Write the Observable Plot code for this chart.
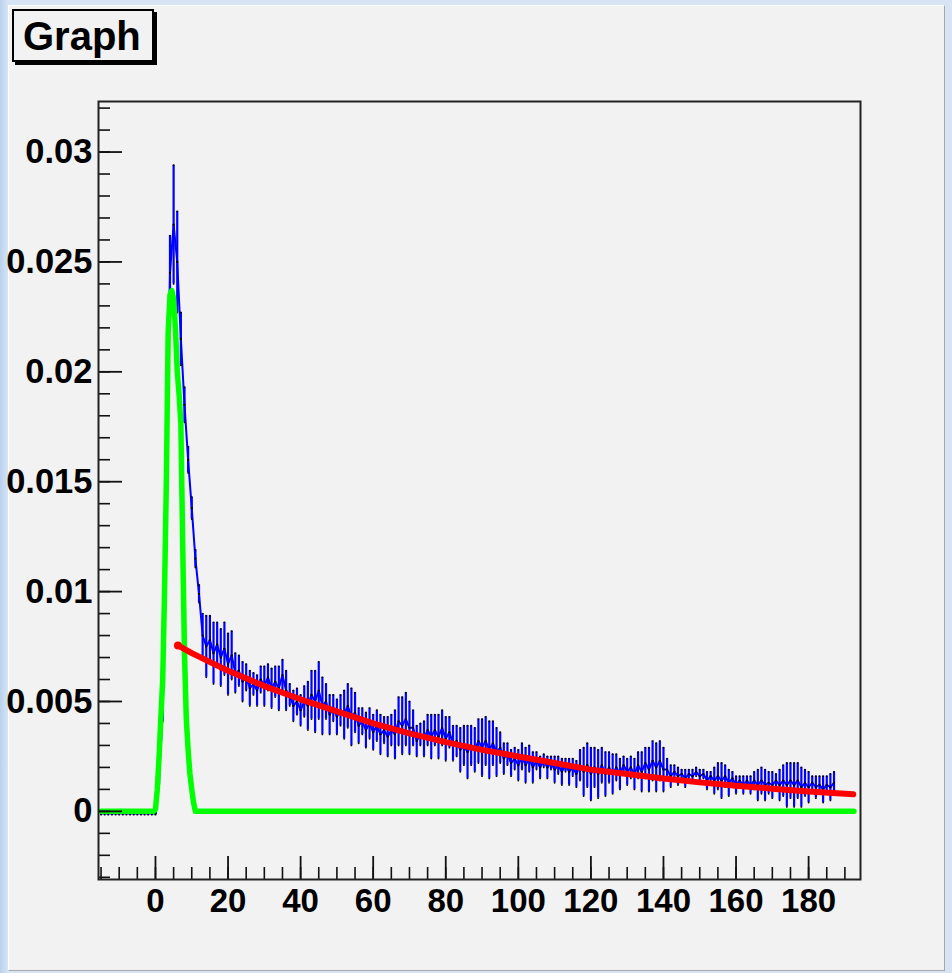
<!DOCTYPE html>
<html>
<head>
<meta charset="utf-8">
<script src="https://cdn.jsdelivr.net/npm/d3@7"></script>
<script src="https://cdn.jsdelivr.net/npm/@observablehq/plot@0.6"></script>
<style>
  html, body { margin: 0; padding: 0; }
  body { width: 952px; height: 973px; position: relative; overflow: hidden;
         background: linear-gradient(90deg, #b9d1ee 0px, #d6e4f5 8px, #d6e4f5 100%); }
  #panel { position: absolute; left: 8px; top: 5px; width: 935px; height: 964px;
           background: #f2f2f2; border-top: 1px solid #ffffff; border-left: 1px solid #ffffff;
           border-right: 1px solid #a8a8a8; border-bottom: 1px solid #a8a8a8; }
  #chart { position: absolute; left: 0; top: 0; }
  #title { position: absolute; left: 12px; top: 9px; width: 138px; height: 49px;
           border: 2px solid #000; background: #f2f2f2; box-shadow: 3px 3px 0 #000; }
  #title span { position: absolute; left: 9px; top: 2.7px; line-height: 39px;
                font: bold 40px "Liberation Sans", Arial, Helvetica, sans-serif; color: #000; }
</style>
</head>
<body>
<div id="panel"></div>
<div id="chart"></div>
<div id="title"><span>Graph</span></div>
<script>
// ---------- data (values in units of 1e-4) ----------
const SCALE = 1e-4;
const blueStart = -15;   // first x of the measured points (step 1)
const blueCenter = [
  -1,-1,-1,-1,-1,-1,-1,-1,-1,-1,-1,-1,-1,-1,-1,-1,
  15,45,150,245,267,250,215,185,160,138,115,99,
  80,75,78,72,76,70,74,67,71,63,
  64,59,61,56,58,55,60,57,61,56,
  59,56,62,55,53,48,50,46,50,48,
  53,50,55,48,50,44,47,43,46,44,
  48,43,45,39,41,37,40,36,39,35,
  37,34,37,35,41,39,42,38,38,32,
  35,33,37,34,37,34,38,33,36,31,
  32,28,30,27,30,28,32,29,32,28,
  31,27,29,24,26,22,24,21,25,21,
  24,20,23,20,23,20,22,19,21,18,
  21,18,20,17,21,18,21,17,20,17,
  21,17,20,17,20,17,21,18,20,17,
  21,18,22,19,23,20,23,19,19,16,
  18,16,17,15,17,16,18,16,17,14,
  16,14,16,14,16,13,15,12,14,12,
  14,12,14,12,14,12,13,12,14,12,
  14,12,14,12,14,11,13,11,13,11,
  12,10,12,11,13
];
const blueError = [
  0.5,0.5,0.5,0.5,0.5,0.5,0.5,0.5,0.5,0.5,0.5,0.5,0.5,0.5,0.5,0.5,
  3,4,10,17,27,23,12,8,6,5,4,4,
  10,14,11,14,10,13,12,14,11,9,
  7,9,6,8,5,7,6,9,6,9,
  7,10,7,9,5,7,6,7,7,11,
  11,14,13,13,8,9,6,8,7,11,
  10,13,9,8,6,8,7,8,7,9,
  6,9,7,11,11,13,12,12,8,7,
  5,8,7,10,7,10,8,10,7,8,
  7,10,9,12,9,10,10,13,11,13,
  10,11,7,7,5,6,5,7,6,8,
  6,7,4,5,3,5,3,6,4,6,
  3,6,4,6,7,11,10,12,9,11,
  8,10,7,9,6,7,4,6,5,7,
  6,9,7,10,9,11,9,10,5,5,
  3,4,2,4,2,3,2,3,2,4,
  2,6,6,8,5,6,3,4,2,4,
  2,4,4,7,6,7,5,6,3,7,
  7,10,8,10,8,9,6,7,3,5,
  4,6,4,6,5
];
const greenX = [-15,-0.5,0,0.5,1,1.5,2,2.5,3,3.5,4,4.5,5,5.5,6,6.5,7,7.5,8,8.5,9,9.5,10,10.5,11,192.5];
const greenY = [0,0,1,10,25,43,60,100,150,218,235,237,233,220,200,190,176,122,72,42,28,17,10,4,0,0];
const redX = [6.2,10,20,30,40,50,60,70,80,90,100,110,120,130,140,150,160,170,180,192.3];
const redY = [75.5,72,64,57,51,45.5,40,35.5,31.5,28,25,22,19,17,15,13.2,11.7,10.3,9,7.8];

const xMajor = [0,20,40,60,80,100,120,140,160,180];
const yMajor = [0,0.005,0.01,0.015,0.02,0.025,0.03];
const xMinor = d3.range(-15, 195, 5);
const yMinor = d3.range(-3, 33).map(i => i / 1000);

// ---------- tables ----------
const blue = blueCenter.map((c, i) => ({
  x: blueStart + i, y: c * SCALE,
  lo: (c - blueError[i]) * SCALE, hi: (c + blueError[i]) * SCALE
}));
const green = greenX.map((x, i) => ({x, y: greenY[i] * SCALE}));
const red = redX.map((x, i) => ({x, y: redY[i] * SCALE}));

// ---------- layout ----------
const W = 952, H = 973, mL = 98, mR = 92, mT = 101, mB = 94;
const plotW = W - mL - mR, plotH = H - mT - mB;
const font = '"Liberation Sans", Arial, Helvetica, sans-serif';
const fmt = d => d === 0 ? "0" : String(+d.toFixed(3));

const chart = Plot.plot({
  width: W, height: H,
  marginLeft: mL, marginRight: mR, marginTop: mT, marginBottom: mB,
  x: {domain: [-15.7, 194.3]},
  y: {domain: [-0.0031, 0.0323]},
  style: {background: "transparent", fontFamily: font, overflow: "visible"},
  marks: [
    Plot.ruleX(blue, {x: "x", y1: "lo", y2: "hi", stroke: "#0000ff", strokeWidth: 2.2}),
    Plot.line(blue, {x: "x", y: "y", stroke: "#0000ff", strokeWidth: 2}),
    Plot.dot(blue, {x: "x", y: "hi", r: 0.9, fill: "#000", stroke: "none"}),
    Plot.dot(blue, {x: "x", y: "lo", r: 0.9, fill: "#000", stroke: "none"}),
    Plot.dot(blue, {x: "x", y: "y", r: 1.1, fill: "#000", stroke: "none"}),
    Plot.line(green, {x: "x", y: "y", stroke: "#00ff00", strokeWidth: 5.5}),
    Plot.line(red, {x: "x", y: "y", stroke: "#ff0000", strokeWidth: 6}),
    Plot.dot(red.slice(0, 1), {x: "x", y: "y", r: 4, fill: "#ff0000", stroke: "none"}),
    Plot.tickY(yMinor, {y: d => d, insetRight: plotW - 12, stroke: "#111", strokeWidth: 1.6}),
    Plot.tickY(yMajor, {y: d => d, insetRight: plotW - 24, stroke: "#111", strokeWidth: 1.8}),
    Plot.tickX(xMinor, {x: d => d, insetTop: plotH - 12, stroke: "#111", strokeWidth: 1.6}),
    Plot.tickX(xMajor, {x: d => d, insetTop: plotH - 23, stroke: "#111", strokeWidth: 1.8}),
    Plot.frame({stroke: "#222", strokeWidth: 2}),
    Plot.axisY(yMajor, {tickSize: 0, tickPadding: 6, tickFormat: fmt, label: null,
      fontSize: 34.5, fontWeight: "bold", fontFamily: font, fill: "#000"}),
    Plot.axisX(xMajor, {tickSize: 0, tickPadding: 9, tickFormat: d => String(d), label: null,
      fontSize: 33, fontWeight: "bold", fontFamily: font, fill: "#000"})
  ]
});
document.getElementById("chart").appendChild(chart);
</script>
</body>
</html>
